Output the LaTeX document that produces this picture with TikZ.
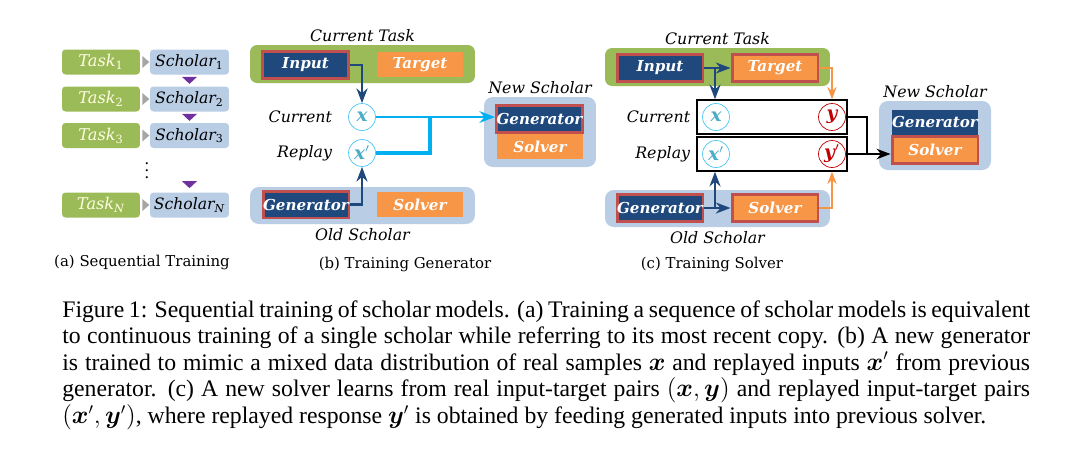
\documentclass[tikz,border=0pt]{standalone}
\usepackage{fontspec}
\usepackage{amsmath,bm}
\setmainfont{Liberation Serif}
\newfontfamily\lblfont{DejaVu Serif}
\usetikzlibrary{arrows.meta,calc,positioning}
\definecolor{taskgreen}{HTML}{9BBB59}
\definecolor{scholarblue}{HTML}{B9CDE5}
\definecolor{netblue}{HTML}{1F497D}
\definecolor{netorange}{HTML}{F79646}
\definecolor{selred}{HTML}{C0504D}
\definecolor{linkblue}{HTML}{00B0F0}
\definecolor{xteal}{HTML}{4BACC6}
\definecolor{ydark}{HTML}{C00000}
\definecolor{seqviolet}{HTML}{7030A0}
\definecolor{seqgray}{HTML}{A6A6A6}
\begin{document}
\begin{tikzpicture}[
    x=0.02cm, y=-0.02cm,
    >={Stealth},
    font=\lblfont\fontsize{8}{9.5}\selectfont,
    lbl/.style={font=\lblfont\itshape\fontsize{9}{10.5}\selectfont},
    taskbox/.style={fill=taskgreen, rounded corners=2pt, minimum width=1.56cm, minimum height=0.5cm, inner sep=0pt, text=white!88!yellow, font=\lblfont\itshape\fontsize{9.2}{11}\selectfont},
    scholarbox/.style={fill=scholarblue, rounded corners=2pt, minimum width=1.58cm, minimum height=0.5cm, inner sep=0pt, font=\lblfont\itshape\fontsize{8.9}{11}\selectfont},
    taskpanel/.style={fill=taskgreen, rounded corners=4pt, minimum width=4.5cm, minimum height=0.76cm},
    scholarpanel/.style={fill=scholarblue, rounded corners=5pt},
    netbox/.style={minimum width=1.72cm, minimum height=0.5cm, inner sep=0pt, text=white, font=\lblfont\bfseries\itshape\fontsize{8.6}{10}\selectfont},
    inputbox/.style={netbox, fill=netblue},
    targetbox/.style={netbox, fill=netorange},
    selected/.style={draw=selred, line width=1.7pt, minimum height=0.54cm},
    varcircle/.style={circle, draw=linkblue!70, fill=white, minimum size=0.54cm, inner sep=0pt, text=xteal, font=\lblfont\bfseries\itshape\fontsize{10.5}{11}\selectfont},
    outcircle/.style={varcircle, draw=ydark, text=ydark},
    rowbox/.style={draw=black, line width=0.8pt, minimum width=3cm, minimum height=0.68cm},
    feed/.style={->, draw=netblue, line width=1.2pt},
    labelfeed/.style={->, draw=netorange, line width=0.9pt},
    mixfeed/.style={draw=linkblue, line width=1.3pt},
    mergefeed/.style={draw=black, line width=1.6pt}
  ]
  \useasboundingbox (0,0) rectangle (1078,454);

  % (a) sequential training
  \foreach \i/\y in {1/62,2/99,3/135.5} {
    \node[taskbox] (task\i) at (101,\y) {Task\textsubscript{\upshape\i}};
    \node[scholarbox] (sch\i) at (189.5,\y) {Scholar\textsubscript{\upshape\i}};
  }
  \node[taskbox] (taskN) at (101,205) {Task\textsubscript{N}};
  \node[scholarbox] (schN) at (189.5,205) {Scholar\textsubscript{N}};
  \foreach \t in {1,2,3,N}
    \fill[seqgray] ($(task\t.east)+(2,-6)$) -- ($(task\t.east)+(9,0)$) -- ($(task\t.east)+(2,6)$) -- cycle;
  \foreach \s in {1,2}
    \fill[seqviolet] ($(sch\s.south)+(-7.5,2)$) -- ($(sch\s.south)+(7.5,2)$) -- ($(sch\s.south)+(0,9)$) -- cycle;
  \fill[seqviolet] ($(schN.north)+(-7.5,-11)$) -- ($(schN.north)+(7.5,-11)$) -- ($(schN.north)+(0,-4)$) -- cycle;
  \node (vdots) at (147,165) {\fontsize{9}{9}\selectfont$\vdots$};
  \node[font=\lblfont\fontsize{8.5}{10}\selectfont] (capa) at (142,262) {(a) Sequential Training};

  % (b) training generator
  \node[taskpanel] (taskb) at (362.5,64) {};
  \node[lbl, above=-2pt of taskb] (taskblbl) {Current Task};
  \node[inputbox, selected] (inb) at (305.5,65) {Input};
  \node[targetbox] (tgtb) at (420,64.5) {Target};
  \node[varcircle] (xb) at (362,117) {x};
  \node[varcircle] (xpb) at (362,153) {x$'$};
  \node[lbl, left=0.2cm of xb] (curb) {Current};
  \node[lbl, left=0.2cm of xpb] (repb) {Replay};
  \node[scholarpanel, minimum width=4.5cm, minimum height=0.74cm] (oldb) at (362.5,205.5) {};
  \node[inputbox, selected] (genb) at (306,204.5) {Generator};
  \node[targetbox] (solb) at (420,204.5) {Solver};
  \node[lbl, below=-1pt of oldb] (oldblbl) {Old Scholar};
  \node[scholarpanel, minimum width=2.24cm, minimum height=1.4cm] (newb) at (540,132) {};
  \node[lbl, above=-2pt of newb] (newblbl) {New Scholar};
  \node[inputbox, selected] (ngenb) at (539.5,119) {Generator};
  \node[targetbox] (nsolb) at (540,146.5) {Solver};
  \coordinate (mixb) at (430,117);
  \draw[feed] (inb.east) -| (xb.north);
  \draw[feed] (genb.east) -| (xpb.south);
  \draw[mixfeed, ->] (xb.east) -- (xb.east -| ngenb.west);
  \draw[mixfeed, line width=2pt] (xpb.east) -| (mixb);
  \node[font=\lblfont\fontsize{8.5}{10}\selectfont] (capb) at (405,264) {(b) Training Generator};

  % (c) training solver
  \node[taskpanel] (taskc) at (717.5,67) {};
  \node[lbl, above=-2pt of taskc] (taskclbl) {Current Task};
  \node[inputbox, selected] (inc) at (660,68) {Input};
  \node[targetbox, selected] (tgtc) at (775,68) {Target};
  \node[rowbox] (curc) at (772,117) {};
  \node[rowbox] (repc) at (772,154) {};
  \node[varcircle] (xc) at (716,117) {x};
  \node[outcircle] (yc) at (832,117) {y};
  \node[varcircle] (xpc) at (716,154) {x$'$};
  \node[outcircle] (ypc) at (832,154) {y$'$};
  \node[lbl, left=0pt of curc] (curclbl) {Current};
  \node[lbl, left=0pt of repc] (repclbl) {Replay};
  \node[scholarpanel, minimum width=4.5cm, minimum height=0.74cm] (oldc) at (717.5,208.5) {};
  \node[inputbox, selected] (genc) at (660,208) {Generator};
  \node[targetbox, selected] (solc) at (775,208) {Solver};
  \node[lbl, below=-1pt of oldc] (oldclbl) {Old Scholar};
  \node[scholarpanel, minimum width=2.24cm, minimum height=1.38cm] (newc) at (935,135.5) {};
  \node[lbl, above=-2pt of newc] (newclbl) {New Scholar};
  \node[inputbox] (ngenc) at (935,122) {Generator};
  \node[targetbox, selected] (nsolc) at (935,150) {Solver};
  \coordinate (splitin) at (715,68);
  \coordinate (splitgen) at (715,208);
  \coordinate (mergec) at (867,117);
  \draw[feed] (inc.east) -- (tgtc.west);
  \draw[feed] (splitin) -- (splitin |- curc.north);
  \draw[feed] (genc.east) -- (solc.west);
  \draw[feed] (splitgen) -- (splitgen |- repc.south);
  \draw[labelfeed] (tgtc.east) -| (yc.north |- curc.north);
  \draw[labelfeed] (solc.east) -| (ypc.south |- repc.south);
  \draw[mergefeed] (curc.east) -- (mergec) |- (repc.east);
  \draw[mergefeed, ->, line width=1.1pt] (repc.east) -- (repc.east -| nsolc.west);
  \node[font=\lblfont\fontsize{8.5}{10}\selectfont] (capc) at (712,264) {(c) Training Solver};

  % caption
  \node[anchor=north west, inner sep=0pt, text width=19.36cm, align=justify,
        font=\rmfamily\fontsize{13.5}{15.1}\selectfont] (caption) at (62,300)
  {\tolerance=9999 Figure 1: Sequential training of scholar models. (a) Training a sequence of scholar models is equivalent\linebreak
   to continuous training of a single scholar while referring to its most recent copy. (b) A new generator\linebreak
   is trained to mimic a mixed data distribution of real samples $\bm{x}$ and replayed inputs $\bm{x}'$ from previous\linebreak
   generator. (c) A new solver learns from real input-target pairs $(\bm{x},\bm{y})$ and replayed input-target pairs\linebreak
   $(\bm{x}',\bm{y}')$, where replayed response $\bm{y}'$ is obtained by feeding generated inputs into previous solver.};
\end{tikzpicture}
\end{document}
